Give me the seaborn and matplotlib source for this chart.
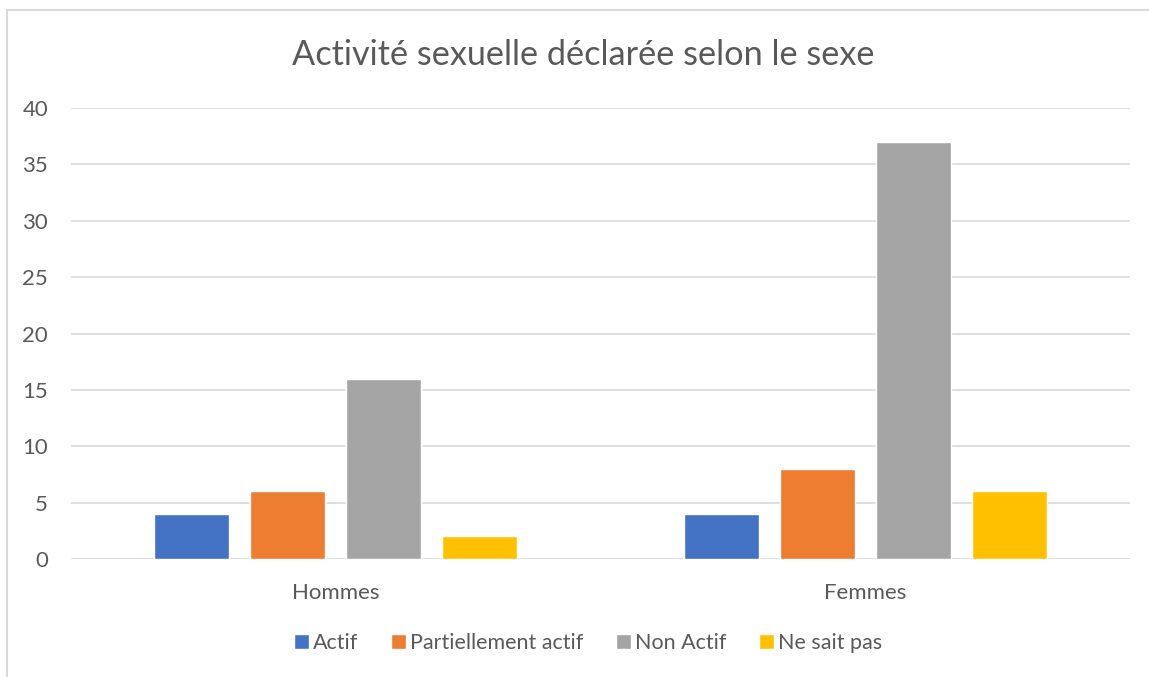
import pandas as pd
import seaborn as sns
import matplotlib.pyplot as plt
from matplotlib.patches import Rectangle

# data
sexes = ['Hommes', 'Femmes']
statuts = ['Actif', 'Partiellement actif', 'Non Actif', 'Ne sait pas']
hommes = [4, 6, 16, 2]
femmes = [4, 8, 37, 6]
couleurs = ['#4472C4', '#ED7D31', '#A5A5A5', '#FFC000']

rows = []
for s, vals in zip(sexes, [hommes, femmes]):
    for st, v in zip(statuts, vals):
        rows.append((s, st, v))
df = pd.DataFrame(rows, columns=['Sexe', 'Statut', 'N'])

sns.set_theme(style='white')
plt.rcParams['font.family'] = ['Lato', 'DejaVu Sans']
txt = '#595959'

fig = plt.figure(figsize=(11.49, 6.77), dpi=100)
ax = fig.add_axes([71 / 1149, 1 - 559 / 677, (1130 - 71) / 1149, (559 - 108) / 677])

sns.barplot(data=df, x='Sexe', y='N', hue='Statut', order=sexes,
            hue_order=statuts, palette=couleurs, width=0.725, gap=0.22,
            saturation=1, ax=ax, legend=True)

ax.set_xlim(-0.5, 1.5)
ax.set_ylim(0, 40)
ax.set_yticks(range(0, 41, 5))
ax.grid(axis='y', color='#D9D9D9', linewidth=1.2)
ax.set_axisbelow(True)
for sp in ax.spines.values():
    sp.set_visible(False)
ax.tick_params(axis='both', length=0, colors=txt, labelsize=16)
ax.tick_params(axis='y', pad=16.5)
ax.tick_params(axis='x', pad=17)
ax.set_xlabel('')
ax.set_ylabel('')

fig.text(583 / 1149, 1 - 55 / 677, 'Activité sexuelle déclarée selon le sexe',
         ha='center', va='center', fontsize=24.7, color=txt)

h, l = ax.get_legend_handles_labels()
ax.get_legend().remove()
fig.legend(h, l, loc='center', bbox_to_anchor=(588 / 1149, 1 - 643 / 677),
           ncol=4, frameon=False, fontsize=15.5, labelcolor=txt,
           handlelength=0.7, handleheight=0.7, handletextpad=0.2,
           columnspacing=1.5)

# light border round the chart
fig.patches.append(Rectangle((7 / 1149, -0.05), 1.1, 1 - 10 / 677 + 0.05,
                             transform=fig.transFigure, fill=False,
                             edgecolor='#D9D9D9', linewidth=1.5))

fig.savefig('out.png', dpi=100)
